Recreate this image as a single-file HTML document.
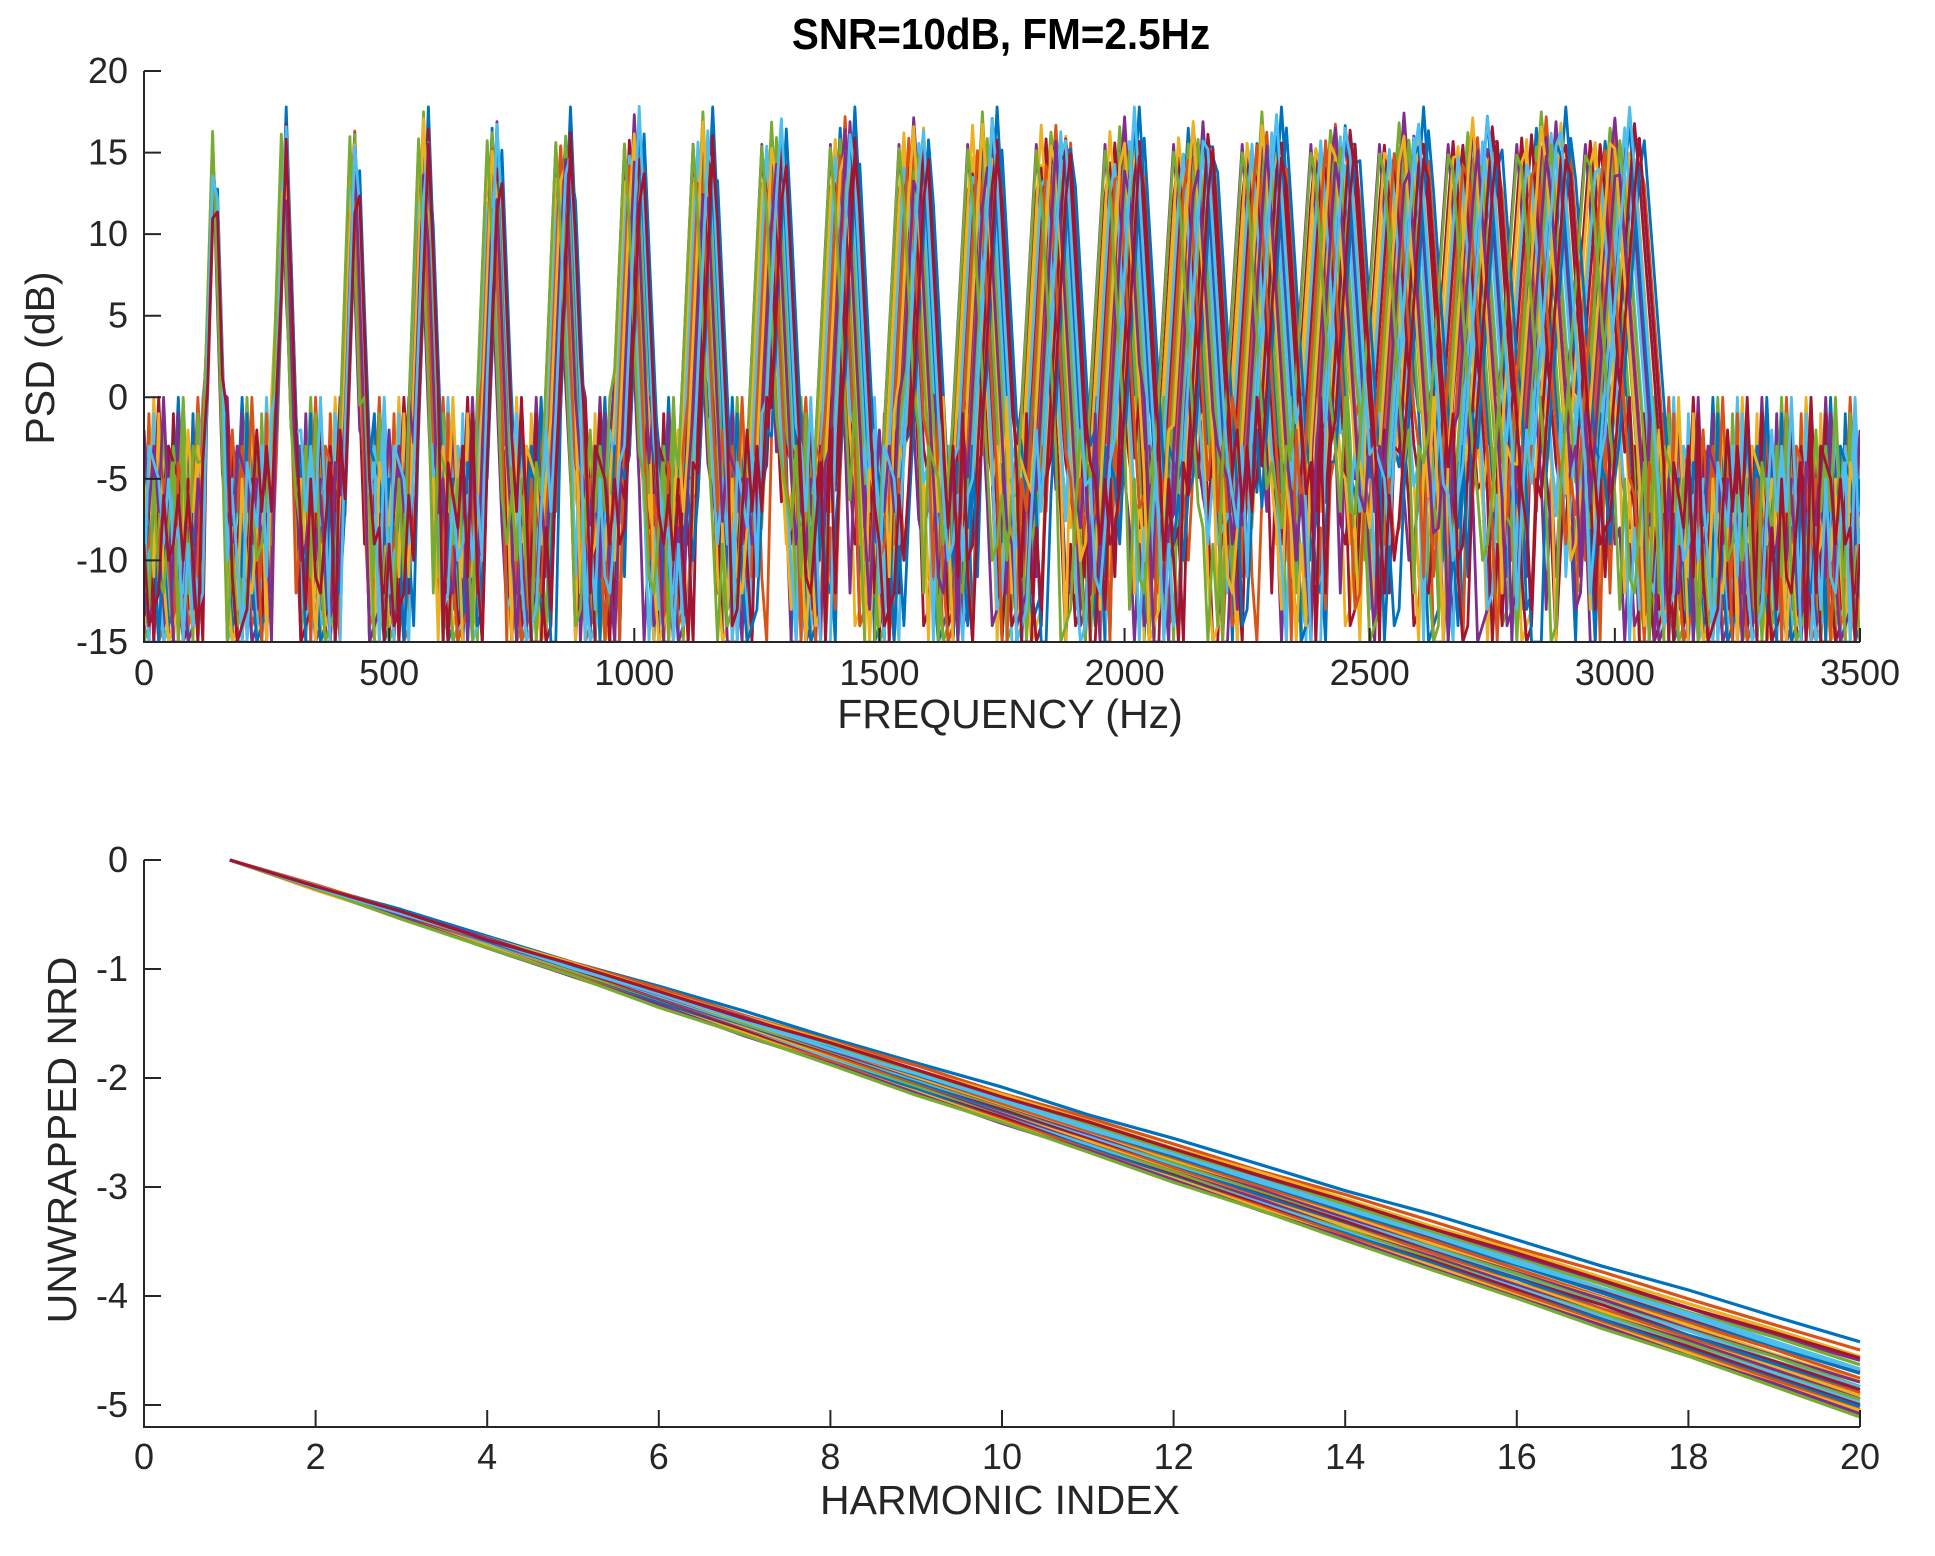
<!DOCTYPE html>
<html><head><meta charset="utf-8"><style>
html,body{margin:0;padding:0;background:#fff;}
svg{display:block;font-family:"Liberation Sans",sans-serif;}
</style></head><body>
<svg id="fig" width="1935" height="1556" viewBox="0 0 1935 1556" xmlns="http://www.w3.org/2000/svg">
<text x="1001" y="49" font-size="44" font-weight="bold" text-anchor="middle" transform="translate(1001,0) scale(0.92,1) translate(-1001,0)">SNR=10dB, FM=2.5Hz</text>
<g id="top"></g>
<g id="bot"></g>
</svg>
<script>
// ---- data: PSD plot ----
const psdF0 = [142,143,141,144,142.5,143.5,140.5,145,143,144.5,140,142.2,143.8,141.5,144.2,145.4,140.8,142.8,143.4,141.2,144.8,145.6,141.8,142.6,143.1,140.2,144.3,145.2];
const psdPeak = [16.5,17.2,15.8,16.9,17.5,16.2,15.9,17.8,16.4,16.8,15.5,17.0,16.6,16.1,17.3,15.7,16.9,17.6,16.3,15.9,17.1,16.7,16.0,17.4,15.6,16.5,17.9,16.2];
const psdNoise = [-6,-9,-4,-12,-16,-7,-3,-10,-14,-5,-8,-18,-2,-11,-6,-13,-9,-4,-17,-7,-1,-10,-12,-5,-15,-8,-3,-11,-20,-6,-9,-2,-13,-7,-16,-4,-10,-8,-12,-5,0,-14,-6,-9,-19,-3,-11,-7,-13,-8];
const psdXTicks = [0,500,1000,1500,2000,2500,3000,3500];
const psdYTicks = [20,15,10,5,0,-5,-10,-15];
const psdCutoff = 3070;
// ---- data: NRD plot ----
const nrdEnd = [-4.42,-4.5,-4.55,-4.6,-4.63,-4.66,-4.7,-4.72,-4.75,-4.78,-4.8,-4.82,-4.84,-4.86,-4.88,-4.9,-4.92,-4.94,-4.96,-4.98,-5.0,-5.02,-5.04,-5.06,-5.08,-5.1,-4.68,-4.58];
const nrdWiggle = [0,0.005,-0.005,0.01,0,-0.01,0.005,0.01,-0.005,0,0.01,-0.01,0.005,0,-0.01,0.01,0.005,-0.005,0.01,0];
const nrdXTicks = [0,2,4,6,8,10,12,14,16,18,20];
const nrdYTicks = [0,-1,-2,-3,-4,-5];

const colors = ['#0072BD','#D95319','#EDB120','#7E2F8E','#77AC30','#4DBEEE','#A2142F'];
const NS = 'http://www.w3.org/2000/svg';
function mk(tag, attrs, parent){const e=document.createElementNS(NS,tag);for(const k in attrs)e.setAttribute(k,attrs[k]);parent.appendChild(e);return e;}

const XL=144, XR=1860;
// ---- top plot ----
const T = document.getElementById('top');
const TY0=71, TY1=642;
const tx = v => XL + (v/3500)*(XR-XL);
const ty = v => TY0 + (20-v)/35*(TY1-TY0);
const clip = mk('clipPath',{id:'clipT'},T);
mk('rect',{x:XL,y:60,width:XR-XL,height:TY1-60},clip);
const tLines = mk('g',{'clip-path':'url(#clipT)'},T);


psdF0.forEach((f0,s)=>{
  let d='';
  let i=0;
  for(let f=0; f<=3500; f+=10, i++){
    const k=Math.round(f/f0);
    let v;
    const hw = 22 + k*1.8;
    const dist = Math.abs(f-k*f0);
    const nv = psdNoise[(i*7+s*13)%psdNoise.length];
    if(k>=1 && k*f0<=psdCutoff && dist<hw){
      v = psdPeak[s] - 24*(dist/hw);
      if(dist/hw>0.75) v=Math.max(v,nv);
    } else {
      v = nv;
    }
    v=Math.max(-15,Math.min(20,v));
    d += (d?'L':'M')+tx(f).toFixed(1)+','+ty(v).toFixed(1);
  }
  const p = mk('path',{d:d,fill:'none',stroke:colors[s%7],'stroke-width':2.8,'stroke-linejoin':'round'},tLines);
  
  
});
const tAx = mk('g',{stroke:'#262626','stroke-width':2},T);


mk('line',{x1:XL,y1:TY0,x2:XL,y2:TY1+1},tAx);
mk('line',{x1:XL-1,y1:TY1,x2:XR,y2:TY1},tAx);
psdXTicks.forEach(v=>{
  mk('line',{x1:tx(v),y1:TY1,x2:tx(v),y2:TY1-14},tAx);
  const t=mk('text',{x:tx(v),y:685,'font-size':36,'text-anchor':'middle',fill:'#262626',stroke:'none'},T);
  t.textContent=v;
  
  
});
psdYTicks.forEach(v=>{
  mk('line',{x1:XL,y1:ty(v),x2:XL+17,y2:ty(v)},tAx);
  const t=mk('text',{x:128,y:ty(v)+12,'font-size':36,'text-anchor':'end',fill:'#262626',stroke:'none'},T);
  t.textContent=v;
  
  
});
let lab=mk('text',{x:1010,y:728,'font-size':41,'text-anchor':'middle',fill:'#262626'},T);
lab.textContent='FREQUENCY (Hz)';


lab=mk('text',{x:0,y:0,'font-size':41,'text-anchor':'middle',fill:'#262626',transform:'translate(54,358) rotate(-90)'},T);
lab.textContent='PSD (dB)';



// ---- bottom plot ----
const B = document.getElementById('bot');
const BY0=860, BY5=1405, BYB=1427;
const bx = v => XL + (v/20)*(XR-XL);
const by = v => BY0 + (-v)/5*(BY5-BY0);
const bLines = mk('g',{},B);


nrdEnd.forEach((e,s)=>{
  let d='';
  for(let h=1; h<=20; h++){
    const v = e*(h-1)/19 + nrdWiggle[(h+s)%nrdWiggle.length]*(h>1?1:0);
    d += (d?'L':'M')+bx(h).toFixed(1)+','+by(v).toFixed(1);
  }
  const p = mk('path',{d:d,fill:'none',stroke:colors[s%7],'stroke-width':3.2,'stroke-linejoin':'round'},bLines);
  
  
});
const bAx = mk('g',{stroke:'#262626','stroke-width':2},B);


mk('line',{x1:XL,y1:BY0,x2:XL,y2:BYB+1},bAx);
mk('line',{x1:XL-1,y1:BYB,x2:XR,y2:BYB},bAx);
nrdXTicks.forEach(v=>{
  mk('line',{x1:bx(v),y1:BYB,x2:bx(v),y2:BYB-17},bAx);
  const t=mk('text',{x:bx(v),y:1469,'font-size':36,'text-anchor':'middle',fill:'#262626',stroke:'none'},B);
  t.textContent=v;
  
  
});
nrdYTicks.forEach(v=>{
  mk('line',{x1:XL,y1:by(v),x2:XL+17,y2:by(v)},bAx);
  const t=mk('text',{x:128,y:by(v)+12,'font-size':36,'text-anchor':'end',fill:'#262626',stroke:'none'},B);
  t.textContent=v;
  
  
});
lab=mk('text',{x:1000,y:1514,'font-size':41,'text-anchor':'middle',fill:'#262626'},B);
lab.textContent='HARMONIC INDEX';


lab=mk('text',{x:0,y:0,'font-size':41,'text-anchor':'middle',fill:'#262626',transform:'translate(76,1140) rotate(-90)'},B);
lab.textContent='UNWRAPPED NRD';


</script>
</body></html>
